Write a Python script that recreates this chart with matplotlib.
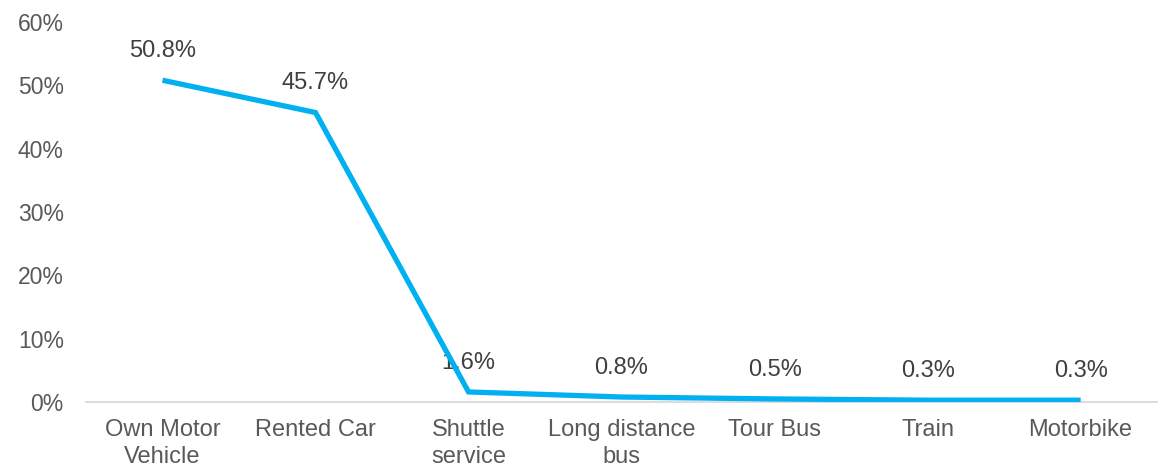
import matplotlib
matplotlib.use("Agg")
import matplotlib.pyplot as plt
from matplotlib.ticker import FuncFormatter

categories = ["Own Motor\nVehicle", "Rented Car", "Shuttle\nservice", "Long distance\nbus",
              "Tour Bus", "Train", "Motorbike"]
values = [50.8, 45.7, 1.6, 0.8, 0.5, 0.3, 0.3]
labels = ["50.8%", "45.7%", "1.6%", "0.8%", "0.5%", "0.3%", "0.3%"]
yticks = [0, 10, 20, 30, 40, 50, 60]

plt.rcParams['font.family'] = ['Liberation Sans', 'DejaVu Sans']

fig = plt.figure(figsize=(11.7, 4.67), dpi=100)
ax = fig.add_axes([0.0735, 0.139, 0.9155, 0.814])

x = list(range(len(categories)))
ax.plot(x, values, color="#00B0F0", linewidth=3.8, solid_joinstyle='miter', solid_capstyle='butt', zorder=3)

for xi, v, lab in zip(x, values, labels):
    ax.annotate(lab, (xi, v), xytext=(0, 21), textcoords="offset points",
                ha="center", va="center", fontsize=17, color="#404040", zorder=2)

ax.set_xlim(-0.5, len(categories) - 0.5)
ax.set_ylim(0, 60)
ax.set_yticks(yticks)
ax.yaxis.set_major_formatter(FuncFormatter(lambda v, p: f"{int(v)}%"))
ax.set_xticks(x)
ax.set_xticklabels(categories, fontsize=17, color="#595959", linespacing=1.27)
ax.tick_params(axis='y', labelsize=16.5, labelcolor="#595959", length=0, pad=16)
ax.tick_params(axis='x', length=0, pad=12.5)

for s in ["top", "right", "left"]:
    ax.spines[s].set_visible(False)
ax.spines["bottom"].set_color("#D9D9D9")
ax.spines["bottom"].set_linewidth(1.3)
ax.spines["bottom"].set_zorder(1)

fig.savefig("out.png", dpi=100)
